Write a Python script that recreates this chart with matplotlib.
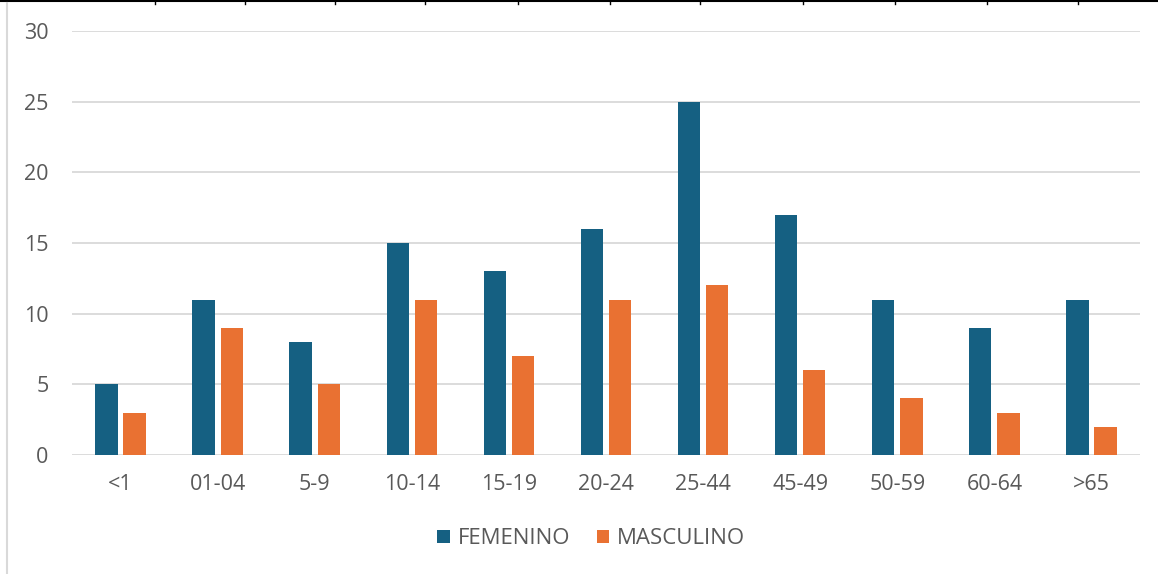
import numpy as np
import matplotlib
matplotlib.use("Agg")
import matplotlib.pyplot as plt
from matplotlib.lines import Line2D

# Data
age_groups = ["<1", "01-04", "5-9", "10-14", "15-19", "20-24", "25-44",
              "45-49", "50-59", "60-64", ">65"]
femenino = [5, 11, 8, 15, 13, 16, 25, 17, 11, 9, 11]
masculino = [3, 9, 5, 11, 7, 11, 12, 6, 4, 3, 2]
y_ticks = [0, 5, 10, 15, 20, 25, 30]

blue = "#156082"
orange = "#E97132"
text_col = "#595959"
grid_col = "#D9D9D9"

plt.rcParams["font.family"] = ["Open Sans", "DejaVu Sans"]

fig = plt.figure(figsize=(11.58, 5.74), dpi=100)
ax = fig.add_axes([72 / 1158, 1 - 455 / 574, 1068 / 1158, 424 / 574])

x = np.arange(len(age_groups))
w = 0.23
ax.bar(x - 0.145, femenino, width=w, color=blue, label="FEMENINO", zorder=3)
ax.bar(x + 0.145, masculino, width=w, color=orange, label="MASCULINO", zorder=3)

ax.set_xlim(-0.5, len(age_groups) - 0.5)
ax.set_ylim(0, 30)
ax.set_yticks(y_ticks)
ax.set_xticks(x)
ax.set_xticklabels(age_groups)
ax.tick_params(axis="both", length=0, labelsize=15.5, labelcolor=text_col)
ax.tick_params(axis="x", pad=14)
ax.tick_params(axis="y", pad=17)
ax.grid(axis="y", color=grid_col, linewidth=1.3, zorder=0)
for s in ax.spines.values():
    s.set_visible(False)

ax.legend(loc="center", bbox_to_anchor=(0.486, -0.198), ncol=2, frameon=False,
          fontsize=16, labelcolor=text_col, handlelength=0.55, handleheight=0.55,
          handletextpad=0.35, columnspacing=1.2)

# frame bits from the surrounding document
fig.add_artist(Line2D([0, 1], [1 - 1 / 574, 1 - 1 / 574], color="black", linewidth=1.5))
for px in [155, 245, 335, 425, 518, 610, 700, 803, 895, 987, 1078]:
    fig.add_artist(Line2D([px / 1158, px / 1158], [1, 1 - 4 / 574], color="black", linewidth=1))
fig.add_artist(Line2D([7 / 1158, 7 / 1158], [0, 1 - 3 / 574], color=grid_col, linewidth=1.5))

fig.savefig("out.png", dpi=100)
